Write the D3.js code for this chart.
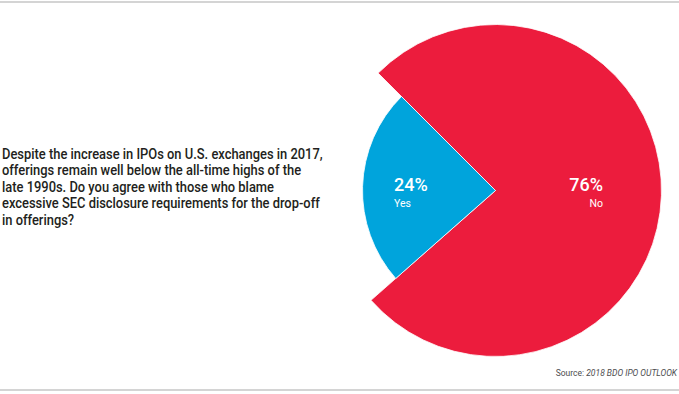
<!DOCTYPE html>
<html>
<head>
<meta charset="utf-8">
<script src="https://cdn.jsdelivr.net/npm/d3@7"></script>
<style>
  body { margin: 0; background: #fff; }
  svg { display: block; }
</style>
</head>
<body>
<div id="chart"></div>
<script>
// chart data
var labels = ["No", "Yes"];
var values = [76, 24];
var colors = ["#ec1c3d", "#00a4dc"];
var question = [
  "Despite the increase in IPOs on U.S. exchanges in 2017,",
  "offerings remain well below the all-time highs of the",
  "late 1990s. Do you agree with those who blame",
  "excessive SEC disclosure requirements for the drop-off",
  "in offerings?"
];

var svgwidth = 679;
var svgheight = 394;

var svg = d3.select("#chart").append("svg")
  .attr("width", svgwidth)
  .attr("height", svgheight);

// rules top and bottom
svg.append("line")
  .attr("x1", 0).attr("x2", svgwidth)
  .attr("y1", 2).attr("y2", 2)
  .attr("stroke", "#c6c6c6")
  .attr("stroke-width", 1.5);

svg.append("line")
  .attr("x1", 0).attr("x2", svgwidth)
  .attr("y1", 390).attr("y2", 390)
  .attr("stroke", "#c6c6c6")
  .attr("stroke-width", 1.5);

// question text
var qgroup = svg.append("g")
  .attr("font-family", "Roboto, sans-serif")
  .attr("font-size", "14px")
  .attr("font-weight", 500)
  .attr("fill", "#231f20");

var qtext = qgroup.selectAll("text").data(question).enter()
  .append("text")
  .attr("x", 0)
  .attr("y", (d, i) => i * 16.5)
  .text(d => d);

// squeeze to match the condensed face
var w0 = qtext.nodes()[0].getComputedTextLength();
var sx = 321 / w0;
qgroup.attr("transform", `translate(2, 159) scale(${sx}, 1)`);

// pie
var cx = 495.5, cy = 190.5;
var radii = [166, 133];

var pie = d3.pie()
  .sort(null)
  .value(d => d)
  .startAngle(-Math.PI / 4)
  .endAngle(2 * Math.PI - Math.PI / 4);

var arcs = pie(values);

var arc = d3.arc()
  .innerRadius(0)
  .outerRadius((d) => radii[d.index]);

var piegroup = svg.append("g")
  .attr("transform", `translate(${cx}, ${cy})`);

piegroup.selectAll("path").data(arcs).enter()
  .append("path")
  .attr("d", arc)
  .attr("fill", (d, i) => colors[i])
  .attr("stroke", "#fff")
  .attr("stroke-width", 0.8);

// labels
var labelpos = [
  { x: 603 - cx, anchor: "end" },
  { x: 394 - cx, anchor: "start" }
];

var lab = piegroup.selectAll(".lab").data(arcs).enter()
  .append("g")
  .attr("class", "lab")
  .attr("font-family", "Roboto, sans-serif")
  .attr("fill", "#fff")
  .attr("text-anchor", (d, i) => labelpos[i].anchor);

lab.append("text")
  .attr("x", (d, i) => labelpos[i].x)
  .attr("y", 0)
  .attr("font-size", "18px")
  .attr("font-weight", 500)
  .text((d, i) => values[i] + "%");

lab.append("text")
  .attr("x", (d, i) => labelpos[i].x)
  .attr("y", 16.5)
  .attr("font-size", "10.5px")
  .text((d, i) => labels[i]);

// source
var src = svg.append("text")
  .attr("x", 677)
  .attr("y", 376)
  .attr("text-anchor", "end")
  .attr("font-family", "Roboto, sans-serif")
  .attr("font-size", "8.5px")
  .attr("fill", "#4d4d4f");

src.append("tspan").text("Source: ");
src.append("tspan").attr("font-style", "italic").text("2018 BDO IPO OUTLOOK");
</script>
</body>
</html>
